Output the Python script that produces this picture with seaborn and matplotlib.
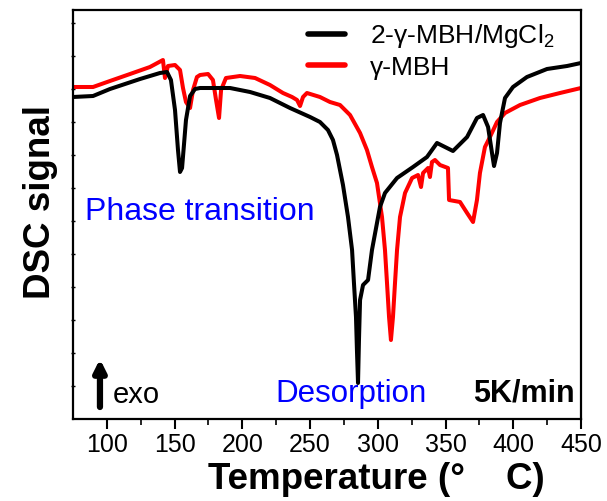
import matplotlib
matplotlib.use("Agg")
import matplotlib.pyplot as plt
import seaborn as sns
import pandas as pd

# DSC traces at 5 K/min (arbitrary signal units, exo up)
temp_mix = [75.0, 89.8, 102.3, 124.5, 139.2, 144.4, 147.3, 150.3, 152.5, 154.0,
            155.5, 156.9, 158.4, 161.4, 165.1, 168.8, 190.9, 205.7, 220.4, 235.2,
            250.0, 257.3, 263.2, 266.9, 269.9, 274.3, 278.0, 281.0, 282.4, 283.9,
            284.6, 285.4, 286.1, 286.9, 289.1, 292.8, 295.7, 299.4, 301.6, 305.3,
            314.2, 326.0, 336.3, 343.7, 349.6, 355.5, 365.9, 373.2, 377.7, 381.4,
            384.3, 385.8, 388.0, 390.2, 393.9, 399.8, 410.1, 424.9, 439.7, 450.0]
dsc_mix = [32.2, 32.3, 33.0, 34.0, 34.6, 34.7, 33.9, 30.9, 26.9, 24.7,
           25.1, 27.4, 29.9, 32.3, 33.0, 33.1, 33.1, 32.7, 32.1, 31.1,
           30.2, 29.7, 28.9, 27.9, 26.4, 23.4, 20.2, 16.9, 13.6, 10.2,
           6.9, 3.6, 7.9, 11.9, 13.4, 13.9, 16.9, 19.6, 21.2, 22.6,
           24.1, 25.2, 26.2, 27.6, 27.2, 26.8, 28.2, 30.1, 30.4, 29.2,
           26.6, 25.3, 26.6, 29.6, 32.1, 33.2, 34.2, 35.0, 35.3, 35.6]

temp_pure = [75.0, 89.8, 102.3, 117.1, 131.8, 141.4, 142.9, 145.1, 150.3, 154.0,
             156.2, 158.4, 161.4, 163.6, 166.5, 168.8, 174.7, 178.3, 180.6, 182.8,
             184.3, 187.9, 198.3, 209.4, 220.4, 230.0, 236.7, 240.4, 242.6, 244.8,
             247.7, 257.3, 264.7, 272.1, 279.5, 286.9, 292.0, 295.7, 299.4, 303.1,
             305.3, 306.8, 308.3, 309.7, 311.2, 312.7, 314.2, 316.4, 320.1, 325.3,
             329.7, 331.9, 333.4, 337.1, 338.5, 340.0, 342.2, 345.9, 351.8, 352.6,
             360.7, 365.9, 370.3, 373.2, 375.4, 379.1, 382.8, 388.0, 393.9, 405.0,
             419.7, 434.5, 450.0]
dsc_pure = [33.2, 33.2, 33.8, 34.5, 35.2, 35.9, 34.1, 35.3, 35.4, 34.9,
            33.1, 31.7, 31.1, 32.9, 34.2, 34.4, 34.5, 33.9, 31.9, 30.1,
            32.9, 34.1, 34.3, 34.1, 33.4, 32.6, 32.2, 31.9, 31.3, 32.2,
            32.6, 32.2, 31.7, 31.4, 30.4, 28.6, 26.9, 25.2, 23.6, 20.2,
            16.9, 13.6, 10.2, 7.9, 10.2, 13.6, 16.9, 20.2, 22.6, 24.1,
            24.4, 23.2, 24.6, 25.1, 24.2, 25.7, 25.9, 25.4, 25.1, 21.9,
            21.7, 20.6, 19.7, 21.9, 24.6, 27.2, 28.2, 29.7, 30.6, 31.4,
            32.1, 32.6, 33.1]

label_mix = "2-\u03b3-MBH/MgCl$_2$"
label_pure = "\u03b3-MBH"
x_ticks = [100, 150, 200, 250, 300, 350, 400, 450]

sns.set_style("ticks")
plt.rcParams["font.family"] = ["Liberation Sans", "DejaVu Sans"]
plt.rcParams["mathtext.fontset"] = "custom"
plt.rcParams["mathtext.rm"] = "Liberation Sans"
plt.rcParams["mathtext.it"] = "Liberation Sans:italic"
plt.rcParams["mathtext.bf"] = "Liberation Sans:bold"
for key in ["text.color", "axes.labelcolor", "xtick.color", "ytick.color",
            "axes.edgecolor"]:
    plt.rcParams[key] = "black"

fig = plt.figure(figsize=(6.07, 5.01), dpi=100)
ax = fig.add_axes([73 / 607, 1 - 419 / 501, 508 / 607, 409 / 501])

df_mix = pd.DataFrame({"T": temp_mix, "DSC": dsc_mix})
df_pure = pd.DataFrame({"T": temp_pure, "DSC": dsc_pure})
sns.lineplot(data=df_mix, x="T", y="DSC", ax=ax, color="black", lw=2.9,
             estimator=None, sort=False, label=label_mix, zorder=3)
sns.lineplot(data=df_pure, x="T", y="DSC", ax=ax, color="#ff0000", lw=2.9,
             estimator=None, sort=False, label=label_pure, zorder=2)

ax.set_xlim(75, 450)
ax.set_ylim(0, 40.9)
ax.set_xticks(x_ticks)
ax.set_xticks([125, 175, 225, 275, 325, 375, 425], minor=True)
ax.tick_params(axis="x", which="major", labelsize=18, length=7, width=1.5,
               direction="out", pad=3, top=False, colors="black")
ax.tick_params(axis="x", which="minor", length=4, width=1.2, direction="out")
ax.set_yticks([i * 3.3 for i in range(1, 13)])
ax.set_yticklabels([])
ax.tick_params(axis="y", which="major", length=3, width=1.0, direction="inout")
for side in ["left", "bottom", "right", "top"]:
    ax.spines[side].set_linewidth(1.6)
    ax.spines[side].set_color("black")

ax.set_xlabel("Temperature (\u00b0    C)", fontsize=26.5, fontweight="bold")
ax.xaxis.set_label_coords(0.598, -0.105)
ax.set_ylabel("DSC signal", fontsize=26.5, fontweight="bold")
ax.yaxis.set_label_coords(-0.03, 0.53)

leg = ax.legend(loc="upper left", bbox_to_anchor=(0.463, 0.97), frameon=False,
                fontsize=19, handlelength=1.4, handletextpad=0.95,
                labelspacing=0.2, borderpad=0, borderaxespad=0)
for h in leg.get_lines():
    h.set_linewidth(4)

ax.text(83.9, 19.9, "Phase transition", color="#0000ff", fontsize=23,
        va="baseline", ha="left")
ax.text(224.1, 1.7, "Desorption", color="#0000ff", fontsize=22.5,
        va="baseline", ha="left")
ax.text(445.6, 1.7, "5K/min", color="black", fontsize=22, fontweight="bold",
        va="baseline", ha="right")
ax.text(104.5, 1.6, "exo", color="black", fontsize=21, va="baseline", ha="left")
ax.annotate("", xy=(94.9, 6.0), xytext=(94.9, 1.2),
            arrowprops=dict(arrowstyle="-|>,head_width=0.35,head_length=0.7",
                            color="black", lw=4.5, shrinkA=0, shrinkB=0))

fig.savefig("out.png", dpi=100)
